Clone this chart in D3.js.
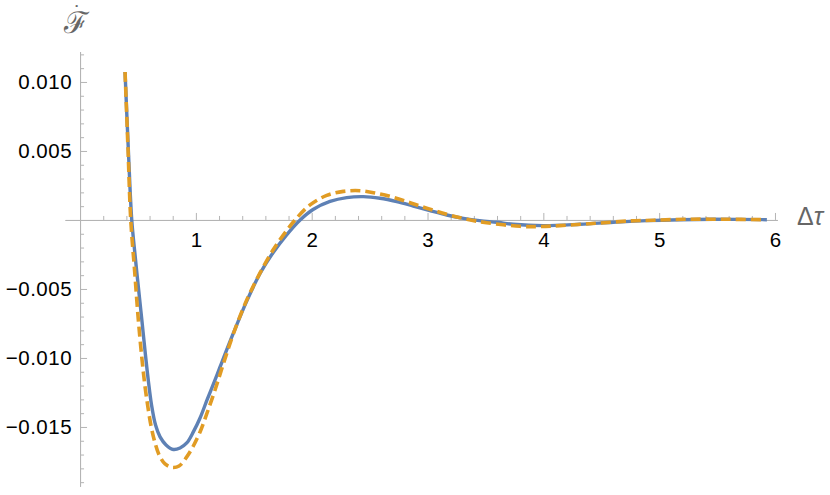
<!DOCTYPE html>
<html>
<head>
<meta charset="utf-8">
<script src="https://cdn.jsdelivr.net/npm/d3@7"></script>
<style>
  html, body { margin: 0; padding: 0; background: #fff; }
  svg { display: block; }
  text { font-family: "Liberation Sans", Arial, sans-serif; }
</style>
</head>
<body>
<svg id="chart" width="830" height="495"></svg>
<script>
// ---- data ----
const tBlue = [0.3885, 0.417, 0.4463, 0.4731, 0.5033, 0.5335, 0.5629, 0.5888, 0.6173, 0.6518, 0.6907, 0.7425, 0.8055, 0.8633, 0.9212, 0.9781, 1.036, 1.0964, 1.1655, 1.2087, 1.3209, 1.4392, 1.554, 1.6662, 1.7785, 1.90, 2.0116, 2.1583, 2.3025, 2.4458, 2.59, 2.734, 2.877, 3.02, 3.166, 3.31, 3.45, 3.6, 3.74, 4.0, 4.317, 4.604, 4.893, 5.18, 5.47, 5.93];
const vBlue = [0.01072, 0.00507, 0.0, -0.00239, -0.00486, -0.00725, -0.00964, -0.01159, -0.01341, -0.01486, -0.01572, -0.0163, -0.01663, -0.01652, -0.01616, -0.01536, -0.01435, -0.01304, -0.01159, -0.01065, -0.00826, -0.00588, -0.00388, -0.00237, -0.00113, 0.0, 0.00076, 0.00134, 0.00162, 0.00169, 0.00157, 0.00133, 0.00101, 0.00068, 0.00036, 0.00012, -0.00005, -0.00017, -0.00031, -0.00041, -0.00031, -0.00017, -0.00005, 0.00002, 0.00005, 0.00002];

const tOrange = [0.3885, 0.4144, 0.4377, 0.4705, 0.5033, 0.5353, 0.5612, 0.5871, 0.613, 0.6475, 0.6863, 0.7338, 0.7943, 0.8547, 0.9212, 0.9781, 1.036, 1.0964, 1.1655, 1.2372, 1.3235, 1.4392, 1.554, 1.6688, 1.7845, 1.8562, 1.9857, 2.1298, 2.2732, 2.4173, 2.561, 2.705, 2.849, 2.993, 3.166, 3.339, 3.51, 3.8, 3.97, 4.14, 4.46, 4.75, 4.95, 5.24, 5.58, 5.9];
const vOrange = [0.01072, 0.00507, 0.0, -0.00362, -0.00725, -0.01014, -0.01208, -0.01362, -0.01493, -0.01616, -0.0171, -0.01768, -0.01793, -0.01783, -0.01717, -0.01638, -0.01536, -0.01399, -0.01232, -0.01043, -0.00826, -0.0058, -0.00384, -0.00214, -0.00076, 0.0, 0.00109, 0.00178, 0.00207, 0.00212, 0.00193, 0.00164, 0.00125, 0.00085, 0.00041, 0.00005, -0.0002, -0.00046, -0.00048, -0.00041, -0.00024, -0.00007, -0.00002, 0.00005, 0.00005, 0.00002];

const xMajorTicks = [1, 2, 3, 4, 5, 6];
const xMajorLabels = ["1", "2", "3", "4", "5", "6"];
const yMajorTicks = [0.010, 0.005, -0.005, -0.010, -0.015];
const yMajorLabels = ["0.010", "0.005", "\u22120.005", "\u22120.010", "\u22120.015"];
const xLabel = "\u0394\u03C4";
const yLabel = "\u2131";

// ---- layout ----
const svg = d3.select("#chart");
const x = d3.scaleLinear().domain([-0.13, 6.02]).range([65, 777.3]);
const y = d3.scaleLinear().domain([-0.0193, 0.0122]).range([486.3, 51.6]);

const axisColor = "#b4b4b4";
const x0 = x(0), y0 = y(0);
const labelFont = "Liberation Sans, Arial, sans-serif";

const xMinor = d3.range(1, 30).map(i => i / 5).filter(v => Math.abs(v - Math.round(v)) > 1e-9);
const yMinor = d3.range(-19, 13).filter(i => i % 5 !== 0).map(i => i / 1000);

function styleAxis(g) {
  g.selectAll(".domain").attr("stroke", axisColor).attr("stroke-width", 1);
  g.selectAll(".tick line").attr("stroke", axisColor).attr("stroke-width", 1);
}

// x axis
const gxMinor = svg.append("g").attr("transform", `translate(0,${y0})`)
  .call(d3.axisBottom(x).tickValues(xMinor).tickSizeInner(-4).tickSizeOuter(0).tickFormat(""));
styleAxis(gxMinor);
const gx = svg.append("g").attr("transform", `translate(0,${y0})`)
  .call(d3.axisBottom(x).tickValues(xMajorTicks).tickSizeInner(-7).tickSizeOuter(0)
    .tickPadding(12).tickFormat((d, i) => xMajorLabels[i]));
styleAxis(gx);
gx.selectAll(".tick text").attr("fill", "#000").attr("font-size", 20.5)
  .attr("font-family", labelFont);

// y axis
const gyMinor = svg.append("g").attr("transform", `translate(${x0},0)`)
  .call(d3.axisLeft(y).tickValues(yMinor).tickSizeInner(-4).tickSizeOuter(0).tickFormat(""));
styleAxis(gyMinor);
const gy = svg.append("g").attr("transform", `translate(${x0},0)`)
  .call(d3.axisLeft(y).tickValues(yMajorTicks).tickSizeInner(-7).tickSizeOuter(0)
    .tickPadding(8).tickFormat((d, i) => yMajorLabels[i]));
styleAxis(gy);
gy.selectAll(".tick text").attr("fill", "#000").attr("font-size", 20.5)
  .attr("letter-spacing", 0.5)
  .attr("font-family", labelFont);

// axis labels
svg.append("text").attr("x", 797).attr("y", y0 + 5).attr("fill", "#666")
  .attr("font-size", 25).attr("font-family", labelFont)
  .text(xLabel[0])
  .append("tspan").attr("font-style", "italic").text(xLabel[1]);

const yl = svg.append("text").attr("x", 64).attr("y", 33).attr("fill", "#666")
  .attr("font-family", "DejaVu Serif, serif");
yl.append("tspan").attr("font-size", 30).text(yLabel);
yl.append("tspan").attr("x", 74).attr("y", 21).attr("font-size", 22)
  .attr("font-family", labelFont).text("\u02D9");

// curves
const line = d3.line().x(d => x(d[0])).y(d => y(d[1])).curve(d3.curveCatmullRom.alpha(0.5));
const blue = tBlue.map((t, i) => [t, vBlue[i]]);
const orange = tOrange.map((t, i) => [t, vOrange[i]]);

svg.append("path").datum(blue).attr("d", line)
  .attr("fill", "none").attr("stroke", "#5E81B5").attr("stroke-width", 3.4)
  .attr("stroke-linejoin", "round");
svg.append("path").datum(orange).attr("d", line)
  .attr("fill", "none").attr("stroke", "#E19C24").attr("stroke-width", 3.6)
  .attr("stroke-dasharray", "10,5");
</script>
</body>
</html>
